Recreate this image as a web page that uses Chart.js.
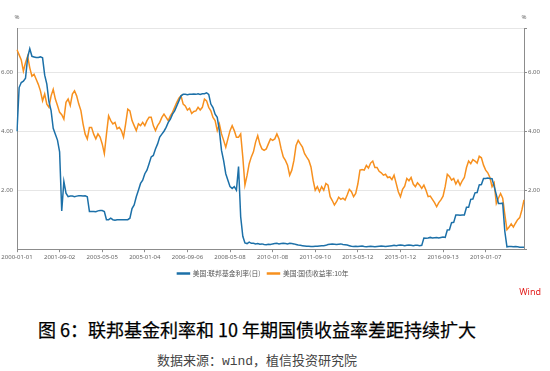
<!DOCTYPE html>
<html>
<head>
<meta charset="utf-8">
<script src="https://cdn.jsdelivr.net/npm/chart.js@4.4.1/dist/chart.umd.min.js"></script>
<style>
  html, body { margin: 0; padding: 0; background: #fff; }
  #wrap { position: relative; width: 550px; height: 371px; overflow: hidden; }
  #chart { position: absolute; left: 0; top: 0; }
  #title {
    position: absolute; left: 0; top: 316px; width: 514px;
    text-align: center; white-space: nowrap;
    font: 400 18px "Noto Sans CJK SC", sans-serif; color: #000; line-height: 26px;
    -webkit-text-stroke: 0.25px #000;
  }
  #source {
    position: absolute; left: 0; top: 353px; width: 514px;
    text-align: center; white-space: nowrap;
    font: 13px "Liberation Mono", "Noto Sans CJK SC", monospace; color: #444; line-height: 18px;
  }
</style>
</head>
<body>
<div id="wrap">
  <canvas id="chart" width="550" height="300"></canvas>
  <div id="title">图 6：联邦基金利率和 10 年期国债收益率差距持续扩大</div>
  <div id="source">数据来源：wind，植信投资研究院</div>
</div>
<script>
// x轴刻度标签（每 20 个点一个）
const tickLabels = ['2000-01-01', '2001-09-02', '2003-05-05', '2005-01-04', '2006-09-06', '2008-05-08',
  '2010-01-08', '2011-09-10', '2013-05-12', '2015-01-12', '2016-09-13', '2019-01-07'];
const pointsPerTick = 20;

// 美国:联邦基金利率(日)
const fedRate = [
  4.0, 5.48, 5.65, 5.7, 5.8, 6.5, 6.8, 6.54, 6.52, 6.5,
  6.5, 6.52, 6.49, 5.9, 5.6, 5.0, 4.7, 4.1, 3.9, 3.7,
  3.3, 1.3, 2.3, 1.9, 1.78, 1.8, 1.8, 1.78, 1.8, 1.81,
  1.81, 1.8, 1.81, 1.78, 1.28, 1.28, 1.28, 1.27, 1.3, 1.31,
  1.31, 1.28, 1.0, 1.0, 1.05, 1.0, 0.98, 1.0, 1.0, 1.0,
  1.0, 1.0, 1.0, 1.05, 1.38, 1.5, 1.78, 2.0, 2.23, 2.34,
  2.56, 2.68, 2.9, 3.13, 3.18, 3.4, 3.57, 3.8, 3.9, 4.0,
  4.13, 4.3, 4.41, 4.58, 4.69, 4.86, 5.03, 5.2, 5.25, 5.25,
  5.24, 5.25, 5.25, 5.26, 5.25, 5.27, 5.25, 5.27, 5.27, 5.3,
  5.25, 4.92, 4.8, 4.58, 4.47, 4.02, 3.35, 3.0, 2.56, 2.34,
  2.12, 2.06, 2.12, 2.0, 2.8, 1.1, 0.44, 0.21, 0.19, 0.24,
  0.2, 0.2, 0.18, 0.19, 0.17, 0.18, 0.16, 0.15, 0.17, 0.16,
  0.18, 0.19, 0.2, 0.18, 0.19, 0.2, 0.19, 0.18, 0.2, 0.19,
  0.18, 0.16, 0.14, 0.13, 0.12, 0.11, 0.1, 0.1, 0.09, 0.09,
  0.1, 0.1, 0.11, 0.12, 0.12, 0.13, 0.16, 0.17, 0.18, 0.17,
  0.16, 0.17, 0.18, 0.16, 0.15, 0.14, 0.12, 0.1, 0.09, 0.1,
  0.09, 0.1, 0.11, 0.09, 0.08, 0.09, 0.1, 0.09, 0.08, 0.09,
  0.1, 0.11, 0.1, 0.09, 0.1, 0.11, 0.12, 0.13, 0.12, 0.13,
  0.14, 0.13, 0.12, 0.13, 0.14, 0.13, 0.12, 0.13, 0.13, 0.12,
  0.13, 0.38, 0.37, 0.38, 0.4, 0.38, 0.39, 0.4, 0.38, 0.4,
  0.41, 0.4, 0.65, 0.66, 0.9, 0.91, 1.16, 1.16, 1.15, 1.16,
  1.16, 1.42, 1.42, 1.69, 1.7, 1.91, 1.92, 2.18, 2.19, 2.4,
  2.4, 2.41, 2.4, 2.39, 2.13, 1.85, 1.55, 1.55, 1.56, 0.6,
  0.08, 0.09, 0.09, 0.08, 0.09, 0.08, 0.07, 0.07, 0.07
];

// 美国:国债收益率:10年
const bond10y = [
  6.76, 6.59, 6.42, 6.04, 6.32, 6.54, 6.15, 5.87, 5.93, 5.76,
  5.59, 5.37, 5.03, 5.26, 4.92, 4.81, 5.2, 5.42, 5.09, 4.87,
  4.64, 4.56, 4.41, 4.98, 5.09, 4.87, 5.26, 5.37, 5.2, 4.92,
  4.7, 4.25, 3.9, 3.74, 4.13, 4.13, 3.9, 3.74, 3.91, 3.8,
  3.57, 3.24, 3.9, 4.52, 4.36, 4.25, 4.3, 4.08, 4.13, 4.02,
  3.8, 4.25, 4.75, 4.69, 4.36, 4.19, 4.02, 4.25, 4.19, 4.3,
  4.19, 4.36, 4.47, 4.47, 4.19, 4.02, 4.19, 4.3, 4.47, 4.58,
  4.47, 4.36, 4.52, 4.64, 4.81, 4.98, 5.12, 5.2, 4.92, 4.86,
  4.72, 4.78, 4.6, 4.67, 4.69, 4.81, 4.72, 4.81, 5.09, 5.03,
  4.81, 4.69, 4.47, 4.36, 4.02, 4.25, 3.91, 3.69, 3.46, 3.74,
  4.02, 4.19, 4.02, 3.8, 3.8, 3.91, 3.12, 2.17, 2.5, 2.9,
  3.13, 3.3, 3.63, 3.85, 3.57, 3.4, 3.35, 3.4, 3.57, 3.74,
  3.69, 3.74, 3.91, 3.74, 3.4, 3.13, 3.01, 2.85, 2.51, 2.68,
  3.01, 3.52, 3.69, 3.57, 3.46, 3.24, 3.12, 3.01, 2.79, 2.34,
  2.0, 2.12, 1.95, 2.12, 2.0, 2.23, 2.17, 1.78, 1.65, 1.5,
  1.61, 1.76, 1.69, 1.73, 1.67, 1.84, 2.03, 1.95, 1.78, 1.89,
  2.21, 2.68, 2.7, 2.68, 2.84, 2.75, 2.92, 2.99, 2.77, 2.77,
  2.64, 2.59, 2.51, 2.54, 2.43, 2.45, 2.36, 2.51, 2.23, 1.95,
  1.78, 2.03, 2.14, 2.4, 2.32, 2.43, 2.21, 2.12, 2.25, 2.17,
  2.06, 2.17, 2.0, 1.78, 1.8, 1.69, 1.58, 1.44, 1.58, 1.67,
  1.8, 2.12, 2.54, 2.47, 2.34, 2.4, 2.21, 2.34, 2.17, 2.32,
  2.43, 2.77, 2.99, 2.9, 3.04, 2.99, 2.92, 3.15, 3.1, 2.85,
  2.68, 2.59, 2.43, 2.12, 2.25, 1.55, 1.73, 1.89, 1.73, 1.17,
  0.66, 0.75, 0.86, 0.75, 0.88, 1.0, 1.07, 1.33, 1.67
];

// y轴
const yTicks = [2, 4, 6];
const yMax = 7.5;

const labels = fedRate.map((_, i) => i % pointsPerTick === 0 ? tickLabels[i / pointsPerTick] : '');

const blue = '#1c70a8';
const orange = '#f7901e';
const axisColor = '#8c8c8c';
const textColor = '#666';

// 左右两侧的“%”和 Wind 标记
const extraText = {
  id: 'extraText',
  afterLayout(chart) {
    // 图例略偏左（居中于左侧）
    if (chart.legend) {
      chart.legend.left -= 12;
      chart.legend.right -= 12;
    }
  },
  afterDraw(chart) {
    const { ctx, chartArea } = chart;
    ctx.save();
    ctx.font = '6px "Noto Sans"';
    ctx.fillStyle = textColor;
    ctx.textAlign = 'center';
    ctx.textBaseline = 'middle';
    ctx.fillText('%', chartArea.left, 17);
    ctx.fillText('%', chartArea.right, 17);
    ctx.font = '9px "Noto Sans"';
    ctx.fillStyle = '#e3211f';
    ctx.textAlign = 'right';
    ctx.fillText('Wind', 541, 292);
    ctx.restore();
  }
};

const yTickList = () => [0, ...yTicks, yMax].map(v => ({ value: v }));
const yLabel = v => yTicks.includes(v) ? v.toFixed(2) : '';

new Chart(document.getElementById('chart'), {
  type: 'line',
  data: {
    labels: labels,
    datasets: [{
      label: '美国:联邦基金利率(日)',
      data: fedRate,
      borderColor: blue,
      backgroundColor: blue,
      borderWidth: 1.5,
      pointRadius: 0,
      yAxisID: 'y'
    }, {
      label: '美国:国债收益率:10年',
      data: bond10y,
      borderColor: orange,
      backgroundColor: orange,
      borderWidth: 1.5,
      pointRadius: 0,
      yAxisID: 'y'
    }]
  },
  options: {
    responsive: false,
    animation: false,
    layout: { padding: { top: 28, left: 0, right: 0, bottom: 13 } },
    plugins: {
      tooltip: { enabled: false },
      legend: {
        position: 'bottom',
        labels: {
          boxWidth: 12,
          boxHeight: 1,
          padding: 7,
          color: '#555',
          font: { size: 6.8, family: '"Noto Sans CJK SC"' }
        }
      }
    },
    scales: {
      x: {
        grid: { display: true, drawOnChartArea: false, tickLength: 3, tickColor: axisColor },
        border: { color: axisColor },
        ticks: {
          autoSkip: false, maxRotation: 0, padding: 1, color: textColor,
          font: { size: 6, family: '"Noto Sans"' },
          callback: (v, i) => labels[v]
        },
        afterBuildTicks(scale) {
          scale.ticks = scale.ticks.filter(t => labels[t.value]);
        },
        afterFit(scale) { scale.height = 14; }
      },
      y: {
        position: 'left',
        min: 0,
        max: yMax,
        grid: { color: '#e6e6e6', drawTicks: false },
        border: { color: axisColor },
        ticks: { padding: 4, color: textColor, font: { size: 6, family: '"Noto Sans"' }, callback: yLabel },
        afterBuildTicks(scale) { scale.ticks = yTickList(); },
        afterFit(scale) { scale.width = 17; }
      },
      y2: {
        position: 'right',
        display: true,
        min: 0,
        max: yMax,
        grid: { drawOnChartArea: false, tickLength: 3, tickColor: axisColor },
        border: { color: axisColor },
        ticks: { padding: 1, color: textColor, font: { size: 6, family: '"Noto Sans"' }, callback: yLabel },
        afterBuildTicks(scale) { scale.ticks = yTickList(); },
        afterFit(scale) { scale.width = 26; }
      }
    }
  },
  plugins: [extraText]
});
</script>
</body>
</html>
